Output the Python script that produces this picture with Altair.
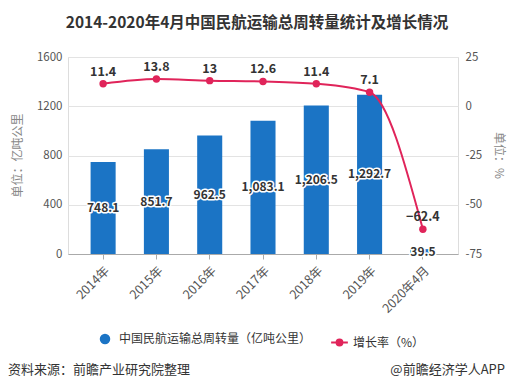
import altair as alt
import pandas as pd

categories = ["2014年", "2015年", "2016年", "2017年", "2018年", "2019年", "2020年4月"]
volume = [748.1, 851.7, 962.5, 1083.1, 1206.5, 1292.7, 39.5]
growth = [11.4, 13.8, 13, 12.6, 11.4, 7.1, -62.4]
left_ticks = [0, 400, 800, 1200, 1600]
right_ticks = [25, 0, -25, -50, -75]

series_bar = "中国民航运输总周转量（亿吨公里）"
series_line = "增长率（%）"

df = pd.DataFrame({"cat": categories, "volume": volume, "growth": growth})

BLUE = "#1b74c5"
RED = "#e0245a"
FONT = "Noto Sans CJK SC"

x = alt.X(
    "cat:N", sort=categories, title=None,
    scale=alt.Scale(paddingInner=0.53, paddingOuter=0.424),
    axis=alt.Axis(labelAngle=-45, labelFontSize=12.5, labelColor="#555", labelFont=FONT,
                  domainColor="#aaa", tickColor="#aaa", tickSize=5, labelPadding=5),
)

left_axis = alt.Axis(values=left_ticks, format="d", title="单位：亿吨公里", grid=True,
                     gridColor="#e3e3e3", domain=False, ticks=False, labelPadding=6,
                     labelFontSize=11.5, labelColor="#555", labelFont=FONT, titleColor="#888",
                     titleFontSize=12, titleFont=FONT, titleFontWeight="normal", titleX=-51,
                     titleY=98, titleAlign="center", titleBaseline="middle", titleAngle=270)
right_axis = alt.Axis(values=right_ticks, title="单位：%", orient="right", grid=False,
                      domain=False, ticks=False, labelPadding=7, labelFontSize=11.5,
                      labelColor="#555", labelFont=FONT, labelExpr="'' + datum.value",
                      titleColor="#888", titleFontSize=12, titleFont=FONT,
                      titleFontWeight="normal", titleX=40, titleY=98, titleAlign="center",
                      titleBaseline="middle", titleAngle=90)

yl_scale = alt.Scale(domain=[0, 1600])
yr_scale = alt.Scale(domain=[-75, 25])

base = alt.Chart(df)

bars = base.transform_calculate(series=f"'{series_bar}'").mark_bar().encode(
    x=x,
    y=alt.Y("volume:Q", scale=yl_scale, axis=left_axis),
    fill=alt.Fill("series:N", scale=alt.Scale(range=[BLUE]),
                  legend=alt.Legend(title=None, orient="none", legendX=31, legendY=276,
                                    symbolType="circle", symbolSize=110, labelOffset=8,
                                    labelFont=FONT, labelFontSize=12, labelColor="#333",
                                    labelLimit=300, padding=0)),
)

bar_text_halo = base.transform_calculate(mid="datum.volume/2").mark_text(
    font=FONT, fontSize=12, fontWeight="bold", color="#333", stroke="white", strokeWidth=3,
    strokeJoin="round", baseline="middle"
).encode(x=x, y=alt.Y("mid:Q", scale=yl_scale, axis=left_axis),
         text=alt.Text("volume:Q", format=",.1f"))

bar_text = base.transform_calculate(mid="datum.volume/2").mark_text(
    font=FONT, fontSize=12, fontWeight="bold", color="#333", baseline="middle"
).encode(x=x, y=alt.Y("mid:Q", scale=yl_scale, axis=left_axis),
         text=alt.Text("volume:Q", format=",.1f"))

src = pd.DataFrame({"a": [1]})
src_left = alt.Chart(src).mark_text(font=FONT, fontSize=13, color="#333", align="left",
                                    baseline="middle").encode(
    x=alt.value(-60), y=alt.value(313), text=alt.value("资料来源：前瞻产业研究院整理"))
src_right = alt.Chart(src).mark_text(font=FONT, fontSize=13, color="#333", align="right",
                                     baseline="middle").encode(
    x=alt.value(437), y=alt.value(313), text=alt.value("@前瞻经济学人APP"))

left = alt.layer(bars, bar_text_halo, bar_text, src_left, src_right)

yr = alt.Y("growth:Q", scale=yr_scale, axis=right_axis)

line = base.transform_calculate(series=f"'{series_line}'").mark_line(
    interpolate="monotone", strokeWidth=2
).encode(
    x=x, y=yr,
    stroke=alt.Stroke("series:N", scale=alt.Scale(range=[RED]),
                      legend=alt.Legend(title=None, orient="none", legendX=262, legendY=276,
                                        symbolType="M-1,0L1,0M-0.35,0A0.35,0.35,0,1,0,0.35,0A0.35,0.35,0,1,0,-0.35,0Z",
                                        symbolSize=280, symbolStrokeWidth=2,
                                        symbolFillColor=RED, labelOffset=4,
                                        labelFont=FONT, labelFontSize=12, labelColor="#333",
                                        labelLimit=300, padding=0)),
)
points = base.mark_circle(size=55, opacity=1, color=RED).encode(x=x, y=yr)
line_text = base.mark_text(font=FONT, fontSize=12.5, fontWeight="bold", color="#333",
                           baseline="bottom", dy=-5).encode(x=x, y=yr, text="growth:Q")

right = alt.layer(line, points, line_text)

chart = alt.layer(left, right).resolve_scale(y="independent").properties(
    width=390, height=197,
    autosize=alt.AutoSizeParams(type="none"),
    padding={"left": 60, "top": 49, "right": 49, "bottom": 126},
    title=alt.TitleParams("2014-2020年4月中国民航运输总周转量统计及增长情况", font=FONT,
                          fontSize=15.5, fontWeight="bold", color="#333", anchor="middle",
                          frame="group", baseline="middle", offset=13, dx=-6),
).configure_view(stroke=None).configure(background="white")

chart.save("out.html", embed_options={"renderer": "svg", "actions": False})
